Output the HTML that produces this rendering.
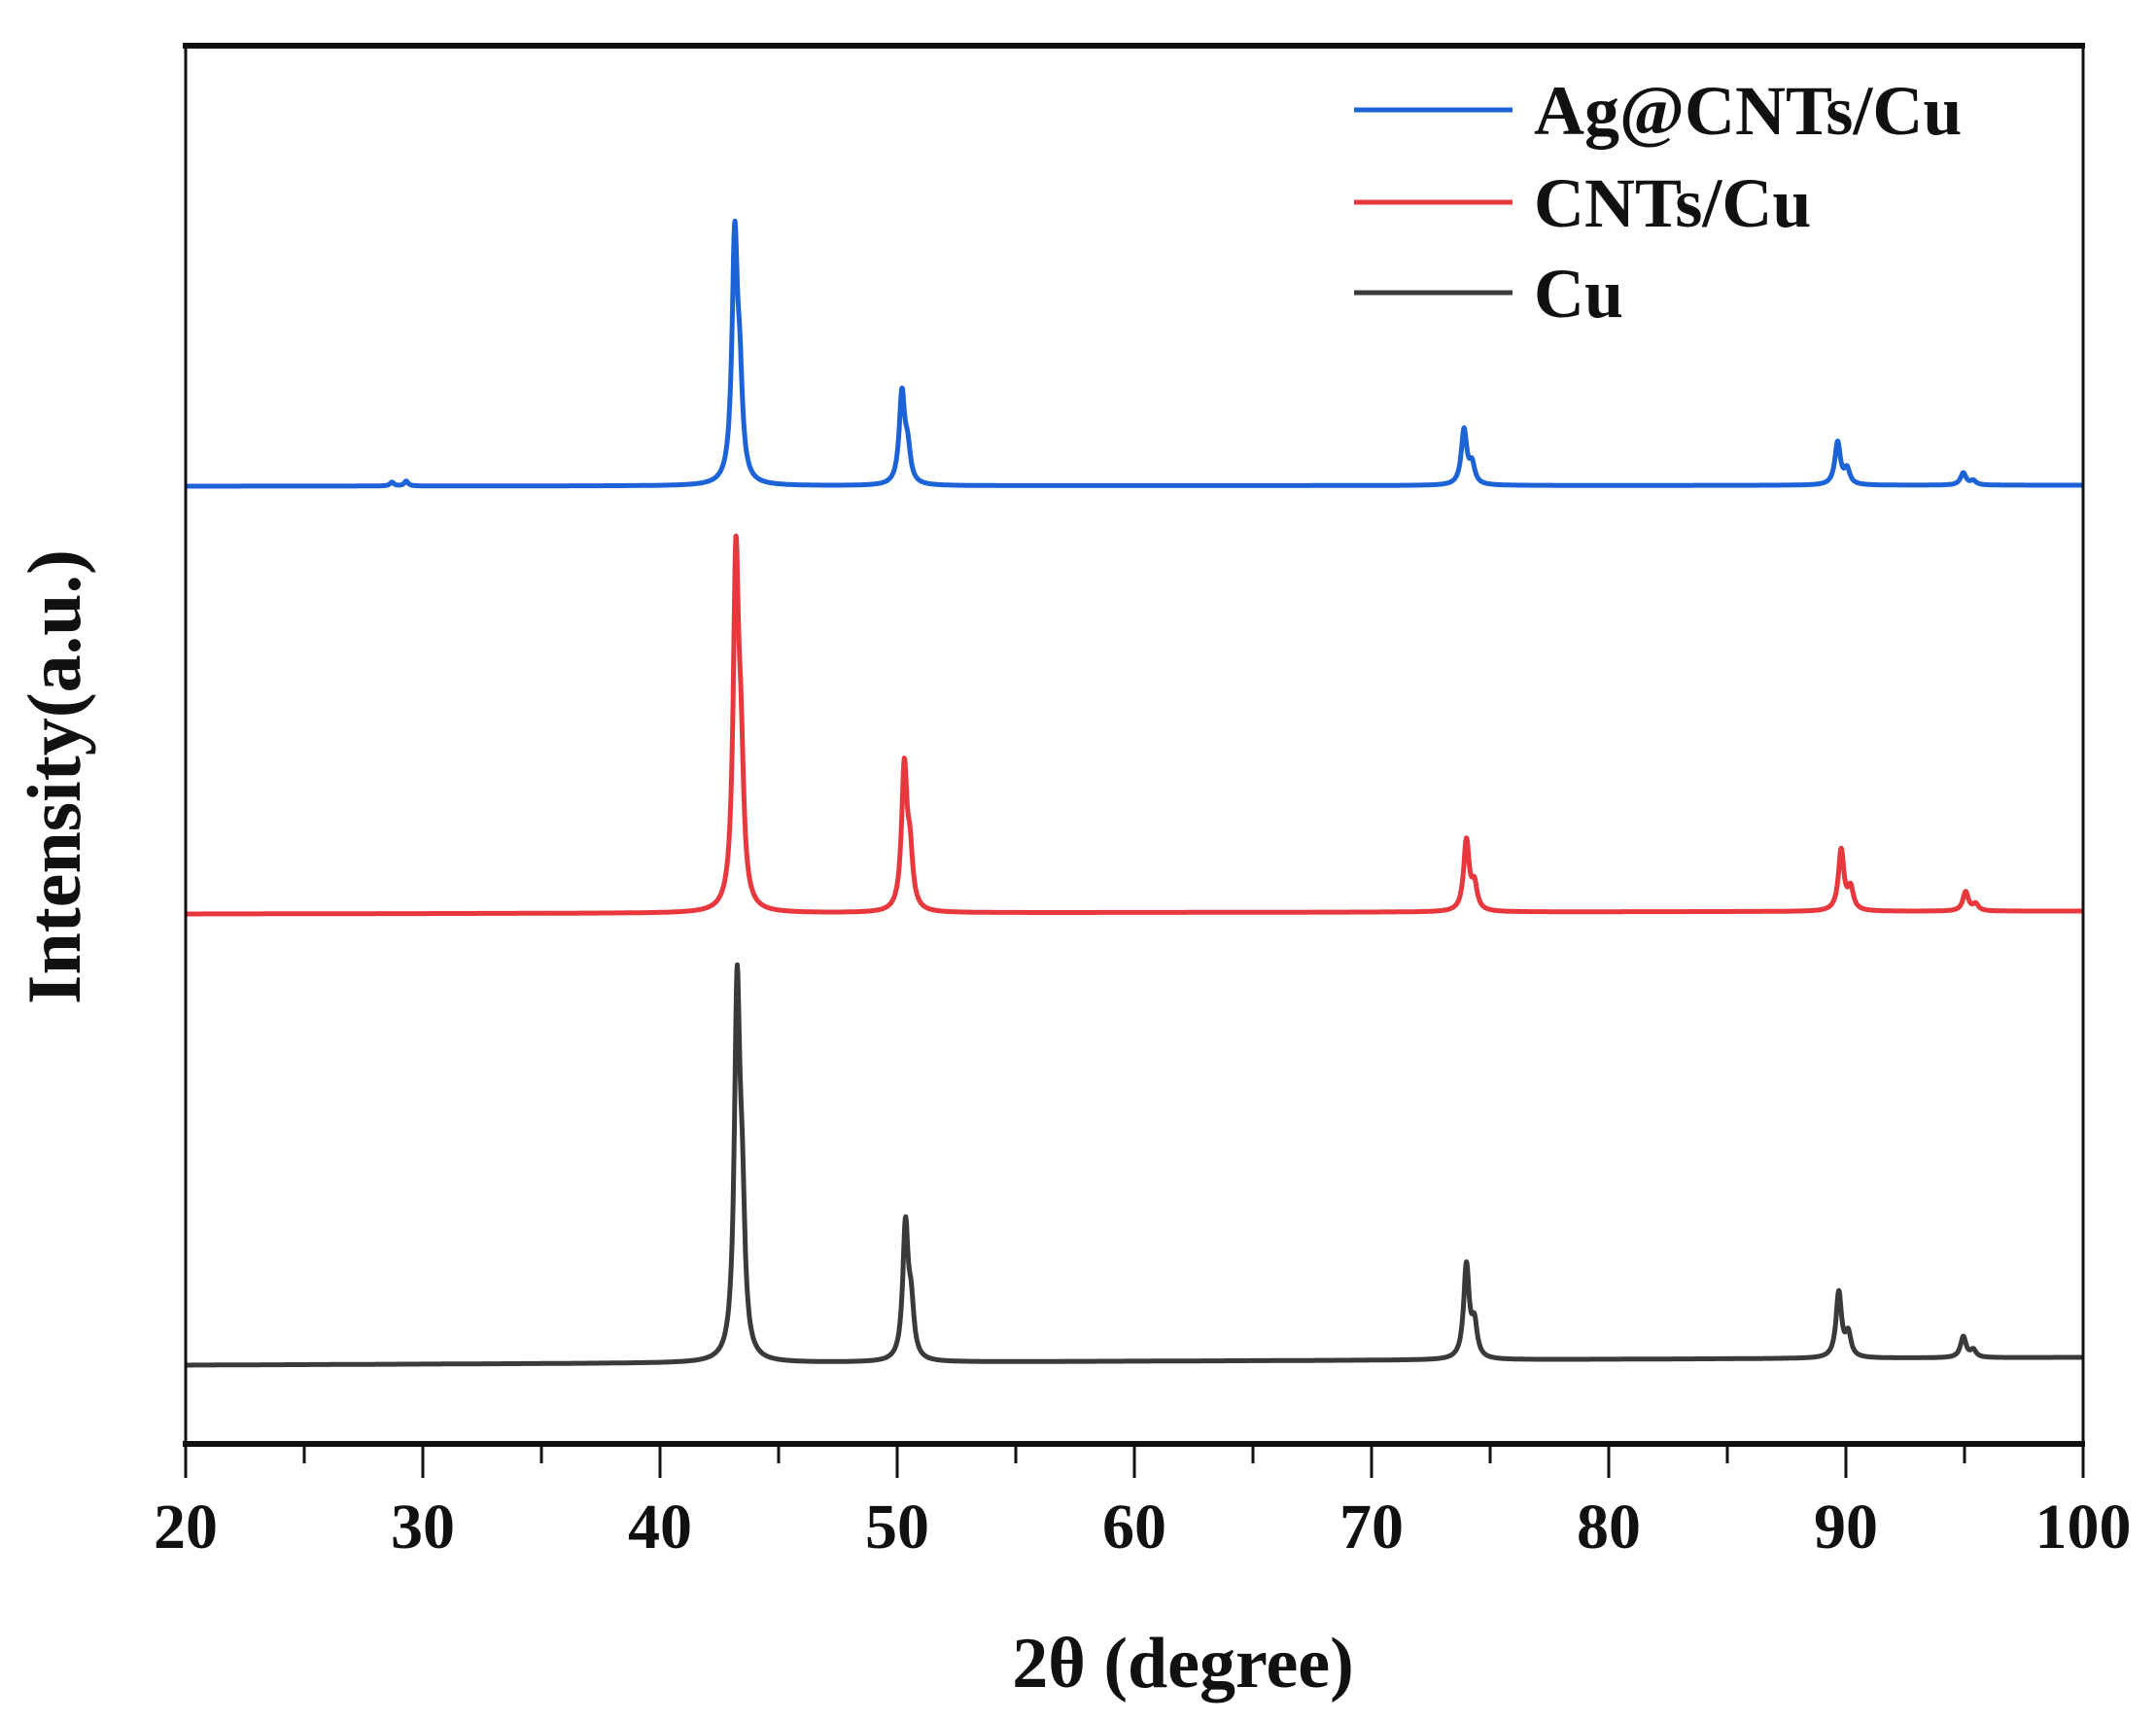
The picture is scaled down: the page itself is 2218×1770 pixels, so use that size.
<!DOCTYPE html>
<html><head><meta charset="utf-8"><style>
html,body{margin:0;padding:0;background:#fff;}
svg{display:block;}
text{font-family:"Liberation Serif",serif;font-weight:bold;fill:#111;}
</style></head><body>
<svg id="s" width="2218" height="1770" viewBox="0 0 2218 1770" xmlns="http://www.w3.org/2000/svg">
<rect width="2218" height="1770" fill="#fff"/>
<g id="series"></g>
<rect x="191" y="47" width="1952" height="1438" fill="none" stroke="#111" stroke-width="3"/>
<line x1="188" y1="47" x2="2145" y2="47" stroke="#111" stroke-width="6"/>
<line x1="188" y1="1485" x2="2145" y2="1485" stroke="#111" stroke-width="6"/>
<g id="ticks" stroke="#111" stroke-width="3"></g>
<g font-size="66" text-anchor="middle" id="xl"></g>
<text x="1217" y="1735" font-size="74" text-anchor="middle">2θ (degree)</text>
<text transform="translate(82,799) rotate(-90)" font-size="78" text-anchor="middle">Intensity(a.u.)</text>
<line x1="1393" y1="113" x2="1556" y2="113" stroke="#1d63d8" stroke-width="5"/>
<line x1="1393" y1="208" x2="1556" y2="208" stroke="#e8383d" stroke-width="5"/>
<line x1="1393" y1="301" x2="1556" y2="301" stroke="#3a3a3a" stroke-width="5"/>
<text x="1578" y="138" font-size="72">Ag@CNTs/Cu</text>
<text x="1578" y="233" font-size="72">CNTs/Cu</text>
<text x="1578" y="326" font-size="72">Cu</text>
</svg>
<script>
var NS="http://www.w3.org/2000/svg";
function X(d){return 191+(d-20)*24.4;}
var t=document.getElementById('ticks'),xl=document.getElementById('xl');
for(var d=20;d<=100;d+=5){var l=document.createElementNS(NS,'line');var x=X(d);l.setAttribute('x1',x);l.setAttribute('x2',x);l.setAttribute('y1',1485);l.setAttribute('y2',d%10==0?1520:1505);t.appendChild(l);
if(d%10==0){var tx=document.createElementNS(NS,'text');tx.setAttribute('x',x);tx.setAttribute('y',1592);tx.textContent=d;xl.appendChild(tx);}}
var S=[
 {c:"#1d63d8",b0:500,b1:499,p:[[43.15,274],[50.2,103],[73.9,63],[89.65,49],[94.95,14]],extra:[[28.7,4],[29.3,5]]},
 {c:"#e8383d",b0:940,b1:937,p:[[43.2,391],[50.3,163],[74.0,81],[89.8,70],[95.05,22]],extra:[]},
 {c:"#3a3a3a",b0:1404,b1:1396,p:[[43.25,412],[50.35,153],[74.0,107],[89.7,75],[94.95,24]],extra:[]}
];
var g=document.getElementById('series');
S.forEach(function(s){
 var pts=[];
 var w=0.14,f=0.35,off=0.2;
 var norm=1+f/(1+Math.pow(off/w,2));
 for(var d=20;d<=100;d+=0.02){
  var y=s.b0+(s.b1-s.b0)*(d-20)/80;
  s.p.forEach(function(p){
   var a=p[0],h=p[1]/norm;
   var o=off+(a-40)*0.004;
   y-=h/(1+Math.pow((d-a)/w,2));
   y-=f*h/(1+Math.pow((d-a-o)/w,2));
  });
  s.extra.forEach(function(p){y-=p[1]/(1+Math.pow((d-p[0])/0.1,2));});
  pts.push(X(d).toFixed(1)+","+y.toFixed(1));
 }
 var pl=document.createElementNS(NS,'polyline');
 pl.setAttribute('points',pts.join(' '));pl.setAttribute('fill','none');pl.setAttribute('stroke',s.c);pl.setAttribute('stroke-width','5');pl.setAttribute('stroke-linejoin','round');
 g.appendChild(pl);
});
</script>
</body></html>
